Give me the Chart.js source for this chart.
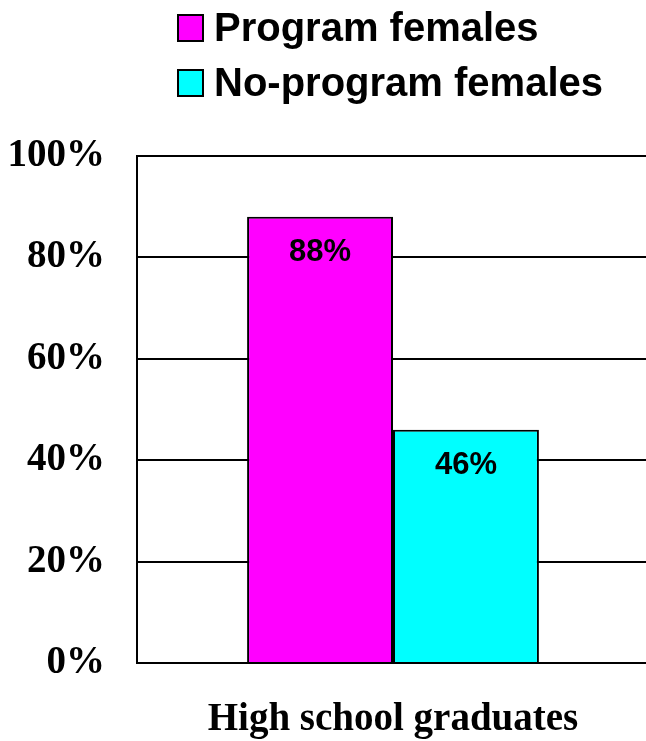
<!DOCTYPE html>
<html>
<head>
<meta charset="utf-8">
<script src="https://cdn.jsdelivr.net/npm/chart.js@4/dist/chart.umd.min.js"></script>
<style>
  html, body { margin: 0; padding: 0; background: #fff; overflow: hidden; }
  #wrap { position: relative; width: 660px; height: 741px; }
</style>
</head>
<body>
<div id="wrap"><canvas id="c" width="660" height="741"></canvas></div>
<script>
// Chart data
const categories = ['High school graduates'];
const seriesNames = ['Program females', 'No-program females'];
const programValues = [88];
const noProgramValues = [46];
const yTickValues = [0, 20, 40, 60, 80, 100];
const seriesColors = ['#FF00FF', '#00FFFF'];

const SANS = '"Liberation Sans", Arial, sans-serif';
const SERIF = '"Liberation Serif", "Times New Roman", serif';

// Legend stacked in rows with left-aligned swatches
const stackedLegend = {
  id: 'stackedLegend',
  afterDraw(chart) {
    const ctx = chart.ctx;
    ctx.save();
    ctx.font = 'bold 40px ' + SANS;
    ctx.textBaseline = 'middle';
    ctx.textAlign = 'left';
    chart.data.datasets.forEach((ds, i) => {
      const cy = 28 + i * 55;
      ctx.fillStyle = ds.backgroundColor;
      ctx.fillRect(178, cy - 13, 25, 26);
      ctx.strokeStyle = '#000';
      ctx.lineWidth = 2;
      ctx.strokeRect(178, cy - 13, 25, 26);
      ctx.fillStyle = '#000';
      ctx.fillText(ds.label, 214, cy + 2);
    });
    ctx.restore();
  }
};

// Value labels inside the top of each bar
const barValueLabels = {
  id: 'barValueLabels',
  afterDatasetsDraw(chart) {
    const ctx = chart.ctx;
    ctx.save();
    ctx.font = 'bold 31px ' + SANS;
    ctx.fillStyle = '#000';
    ctx.textAlign = 'center';
    ctx.textBaseline = 'middle';
    chart.data.datasets.forEach((ds, di) => {
      chart.getDatasetMeta(di).data.forEach((bar, i) => {
        ctx.fillText(ds.data[i] + '%', bar.x, bar.y + 36);
      });
    });
    ctx.restore();
  }
};

new Chart(document.getElementById('c'), {
  type: 'bar',
  data: {
    labels: categories,
    datasets: [
      { label: seriesNames[0], data: programValues, backgroundColor: seriesColors[0],
        borderColor: '#000', borderWidth: 2 },
      { label: seriesNames[1], data: noProgramValues, backgroundColor: seriesColors[1],
        borderColor: '#000', borderWidth: 2 }
    ]
  },
  options: {
    responsive: false,
    animation: false,
    events: [],
    layout: { padding: { top: 156, right: 11, left: 0, bottom: 0 } },
    datasets: { bar: { categoryPercentage: 0.57, barPercentage: 1.0 } },
    plugins: { legend: { display: false }, tooltip: { enabled: false } },
    scales: {
      x: {
        ticks: { display: false },
        grid: { display: false },
        border: { display: false },
        title: {
          display: true,
          text: categories[0],
          color: '#000',
          font: { family: SERIF, size: 39, weight: 'bold', lineHeight: 1.0 },
          padding: { top: 0, bottom: 2 }
        },
        afterFit(scale) { scale.height = 78; }
      },
      y: {
        min: 0,
        max: 100,
        afterBuildTicks(scale) { scale.ticks = yTickValues.map(v => ({ value: v })); },
        ticks: {
          color: '#000',
          padding: 32,
          font: { family: SERIF, size: 39, weight: 'bold' },
          callback: v => v + '%'
        },
        grid: { color: '#000', lineWidth: 2, drawTicks: false },
        border: { display: true, color: '#000', width: 2 },
        afterFit(scale) { scale.width = 137; }
      }
    }
  },
  plugins: [stackedLegend, barValueLabels]
});
</script>
</body>
</html>
